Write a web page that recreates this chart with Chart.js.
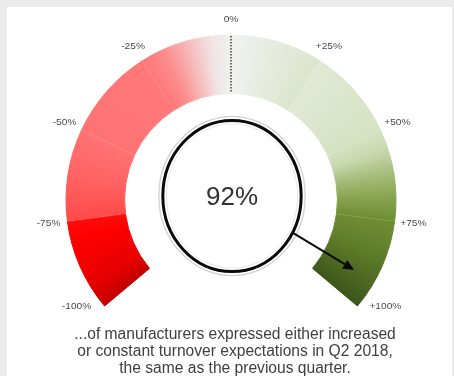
<!DOCTYPE html>
<html>
<head>
    <title>Turnover expectations gauge</title>
    <meta charset="UTF-8">
    <style>
        html, body { margin: 0; padding: 0; background: #ebebeb; overflow: hidden; }
        #panel { position: absolute; left: 7px; top: 7px; width: 445px; height: 369px; background: #ffffff; }
        #gauge { position: absolute; left: 0; top: 0; }
    </style>
</head>
<body>

<div id="panel"></div>
<canvas id="gauge" width="454" height="376"></canvas>

<script src="https://cdn.jsdelivr.net/npm/chart.js@4"></script>
<script>

    // gauge bands, 25 points each, from -100% up to +100%
    var band_names = ["-100% to -75%", "-75% to -50%", "-50% to -25%", "-25% to 0%",
                      "0% to +25%", "+25% to +50%", "+50% to +75%", "+75% to +100%"];
    var band_values = [25, 25, 25, 25, 25, 25, 25, 25];

    // tick marks round the gauge
    var tick_values = [-100, -75, -50, -25, 0, 25, 50, 75, 100];
    var tick_labels = ["-100%", "-75%", "-50%", "-25%", "0%", "+25%", "+50%", "+75%", "+100%"];

    // share of manufacturers with increased or constant expectations
    var share_value = 92;
    var share_label = "92%";

    var caption_lines = ["...of manufacturers expressed either increased",
                         "or constant turnover expectations in Q2 2018,",
                         "the same as the previous quarter."];

    // colour along the sweep, degrees from the top (clockwise positive)
    var sweep_colours = [
        [-130, "#c40000"], [-121, "#e80000"], [-104, "#ff0000"], [-97.6, "#ff0b0b"],
        [-97.4, "#ff4a4a"], [-82, "#ff6262"], [-65, "#ff7373"], [-32.5, "#ff7878"],
        [-24, "#fc8d8d"], [-15, "#f6bcbc"], [-7, "#f1e5e5"], [0, "#f0f0f0"],
        [4, "#eef0ec"], [32.4, "#dbe5cb"], [32.6, "#e1e9d5"], [65, "#d5e2c2"],
        [72, "#c8d8ae"], [82, "#a0b872"], [90, "#84a24c"], [97.5, "#6e8d33"],
        [110, "#5f7e2a"], [130, "#3c561a"]
    ];

    function band_fill(context){
        var chart = context.chart;
        var area = chart.chartArea;
        var ctrl = chart.getDatasetMeta(0).controller;
        if(!area || !ctrl || !isFinite(ctrl.offsetX) || !isFinite(ctrl.offsetY)){
            return "#dddddd";
        }
        var cx = (area.left + area.right) / 2 + ctrl.offsetX;
        var cy = (area.top + area.bottom) / 2 + ctrl.offsetY;
        // start the conic gradient straight down, so -180deg maps to 0
        var g = chart.ctx.createConicGradient(Math.PI / 2, cx, cy);
        sweep_colours.forEach(function(s){
            g.addColorStop((s[0] + 180) / 360, s[1]);
        });
        return g;
    }

    var gauge_decor = {
        id: "gauge_decor",
        afterDatasetsDraw: function(chart){
            var ctx = chart.ctx;
            var arcs = chart.getDatasetMeta(0).data;
            var first = arcs[0], last = arcs[arcs.length - 1];
            var cx = first.x, cy = first.y;
            var R = first.outerRadius, r = first.innerRadius;
            var vmin = tick_values[0], vmax = tick_values[tick_values.length - 1];

            function angle_of(v){
                return first.startAngle + (v - vmin) / (vmax - vmin) * (last.endAngle - first.startAngle);
            }

            ctx.save();

            // faint seams between the bands
            ctx.strokeStyle = "rgba(255, 255, 255, 0.18)";
            ctx.lineWidth = 0.8;
            tick_values.slice(1, -1).forEach(function(v){
                if(v === 0) return;
                var a = angle_of(v);
                ctx.beginPath();
                ctx.moveTo(cx + Math.cos(a) * r, cy + Math.sin(a) * r);
                ctx.lineTo(cx + Math.cos(a) * R, cy + Math.sin(a) * R);
                ctx.stroke();
            });

            // dotted line at 0%
            var a0 = angle_of(0);
            ctx.strokeStyle = "#4a4a4a";
            ctx.lineWidth = 1.6;
            ctx.setLineDash([1.5, 1.5]);
            ctx.beginPath();
            ctx.moveTo(cx + Math.cos(a0) * (R - 1), cy + Math.sin(a0) * (R - 1));
            ctx.lineTo(cx + Math.cos(a0) * (r + 1), cy + Math.sin(a0) * (r + 1));
            ctx.stroke();
            ctx.setLineDash([]);

            // tick labels
            ctx.fillStyle = "#4a4a4a";
            ctx.font = "8.5px 'Liberation Sans', Arial, sans-serif";
            ctx.textAlign = "center";
            ctx.textBaseline = "middle";
            tick_values.forEach(function(v, i){
                var a = angle_of(v);
                var x, y;
                if(v === vmin || v === vmax){
                    var side = v === vmin ? -1 : 1;
                    x = cx + Math.cos(a) * R + side * 28;
                    y = cy + Math.sin(a) * R + 1;
                } else {
                    var lr = R + 15 + 4 * Math.abs(Math.cos(a));
                    x = cx + Math.cos(a) * lr;
                    y = cy + Math.sin(a) * lr;
                }
                ctx.save();
                ctx.translate(x, y);
                ctx.scale(1.2, 1);
                ctx.fillText(tick_labels[i], 0, 0);
                ctx.restore();
            });

            // circle round the headline value
            var ex = cx + 1, ey = cy - 4;
            var rx = r * 0.65, ry = r * 0.71;
            ctx.lineWidth = 1.5;
            ctx.strokeStyle = "#d6d6d6";
            ctx.beginPath();
            ctx.ellipse(ex, ey, rx + 4, ry + 4, 0, 0, Math.PI * 2);
            ctx.stroke();
            ctx.lineWidth = 1;
            ctx.strokeStyle = "#e8e8e8";
            ctx.beginPath();
            ctx.ellipse(ex, ey, rx - 3.5, ry - 3.5, 0, 0, Math.PI * 2);
            ctx.stroke();
            ctx.lineWidth = 3;
            ctx.strokeStyle = "#0a0a0a";
            ctx.beginPath();
            ctx.ellipse(ex, ey, rx, ry, 0, 0, Math.PI * 2);
            ctx.stroke();

            ctx.fillStyle = "#333333";
            ctx.font = "26px 'Liberation Sans', Arial, sans-serif";
            ctx.fillText(share_label, ex, ey + 2);

            // arrow from the circle to the value on the gauge
            var av = angle_of(share_value);
            var tr = r + 0.6 * (R - r);
            var tx = cx + Math.cos(av) * tr, ty = cy + Math.sin(av) * tr;
            var dx = tx - ex, dy = ty - ey;
            var t = 1 / Math.sqrt((dx / rx) * (dx / rx) + (dy / ry) * (dy / ry));
            var sx = ex + dx * t, sy = ey + dy * t;
            var len = Math.sqrt((tx - sx) * (tx - sx) + (ty - sy) * (ty - sy));
            var ux = (tx - sx) / len, uy = (ty - sy) / len;
            var head = 11, half = 5;
            ctx.strokeStyle = "#0a0a0a";
            ctx.lineWidth = 2;
            ctx.beginPath();
            ctx.moveTo(sx, sy);
            ctx.lineTo(tx - ux * head, ty - uy * head);
            ctx.stroke();
            ctx.fillStyle = "#0a0a0a";
            ctx.beginPath();
            ctx.moveTo(tx, ty);
            ctx.lineTo(tx - ux * head - uy * half, ty - uy * head + ux * half);
            ctx.lineTo(tx - ux * head + uy * half, ty - uy * head - ux * half);
            ctx.closePath();
            ctx.fill();

            // caption under the gauge
            ctx.fillStyle = "#404040";
            ctx.font = "15.6px 'Liberation Sans', Arial, sans-serif";
            caption_lines.forEach(function(line, i){
                ctx.fillText(line, cx + 4, cy + 135 + i * 17);
            });

            ctx.restore();
        }
    };

    window.gauge_chart = new Chart(document.getElementById("gauge"), {
        type: "doughnut",
        data: {
            labels: band_names,
            datasets: [{
                data: band_values,
                backgroundColor: band_fill,
                borderColor: band_fill,
                borderWidth: 1,
                hoverOffset: 0,
                hoverBorderWidth: 1
            }]
        },
        options: {
            responsive: false,
            animation: false,
            events: [],
            rotation: -130,
            circumference: 260,
            cutout: "64.5%",
            layout: {
                padding: { left: 65.5, right: 57.5, top: 25.5, bottom: 60.5 }
            },
            plugins: {
                legend: { display: false },
                tooltip: { enabled: false }
            }
        },
        plugins: [gauge_decor]
    });

</script>
</body>
</html>
